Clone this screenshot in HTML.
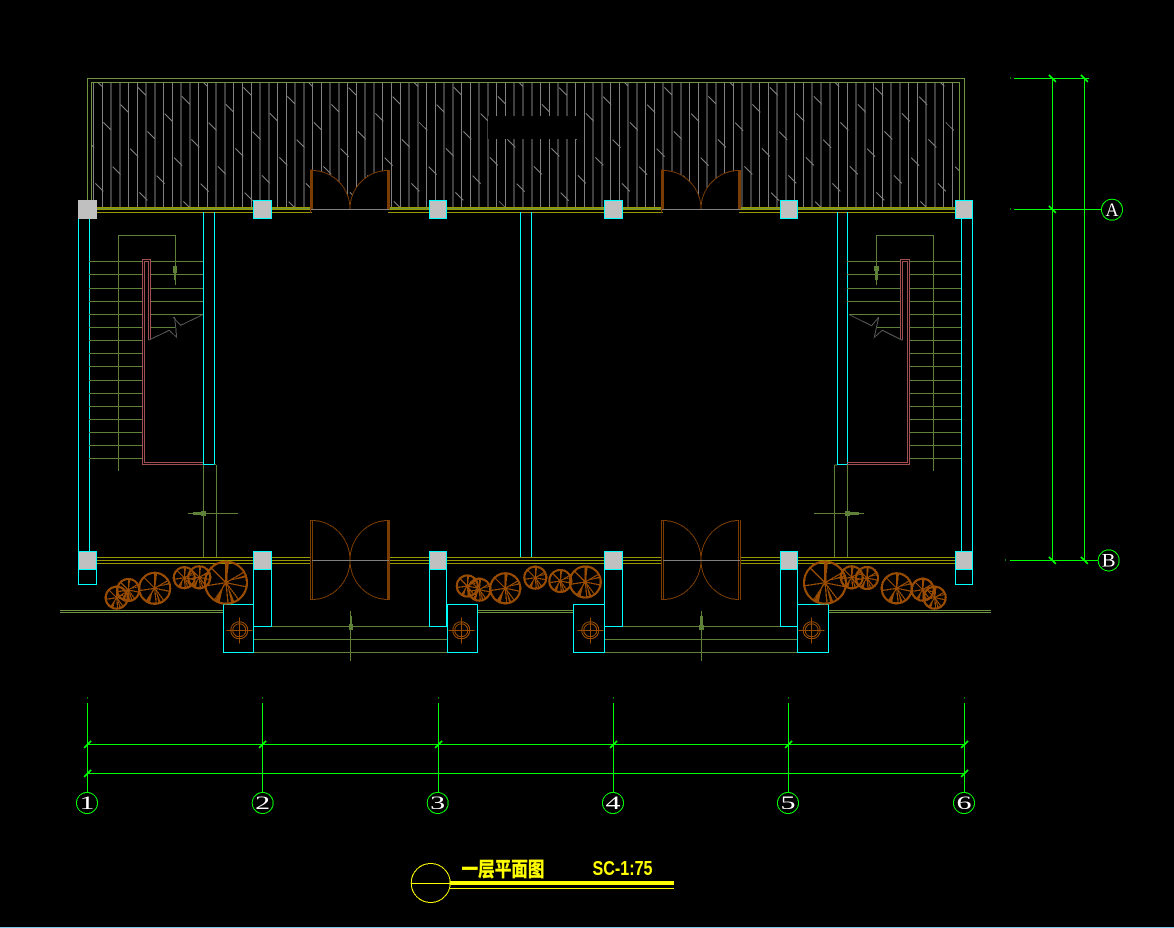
<!DOCTYPE html>
<html><head><meta charset="utf-8"><title>一层平面图</title>
<style>html,body{margin:0;padding:0;background:#000;width:1174px;height:928px;overflow:hidden}svg{display:block;shape-rendering:crispEdges}
.l{fill:none;stroke-width:1}
.c{stroke:#00ffff}.o{stroke:#999900}.g{stroke:#5f8038}.r{stroke:#a05050}.d{stroke:#7a3c00}.y{stroke:#808080}.n{stroke:#00ff00}
.t{fill:#fff;font-family:"Liberation Serif",serif;font-size:19px;text-anchor:middle}
</style></head><body>
<svg width="1174" height="928" viewBox="0 0 1174 928" xmlns="http://www.w3.org/2000/svg">
<defs>
<clipPath id="hc"><rect x="92" y="83" width="867" height="124"/></clipPath>
<g id="tr"><circle r="1" fill="none" stroke="#994c00" stroke-width="2.2" vector-effect="non-scaling-stroke"/><path d="M0 0L.12 -1M0 0L.85 -.5M0 0L.98 .2M0 0L.6 .8M0 0L.1 1M0 0L-.55 .83M0 0L-.98 .15M0 0L-.7 -.7" fill="none" stroke="#994c00" stroke-width="1.2" vector-effect="non-scaling-stroke"/><path d="M-.04 -.95L.08 -.95L.06 0L-.05 .05ZM-.08 0L-.5 .85L-.3 .9ZM.05 .05L.25 .95L.4 .9ZM0 -.06L.9 -.35L.92 -.25Z" fill="#994c00"/></g>
<g id="tl"><circle r="8.5" fill="none" stroke="#994c00"/><circle r="6.5" fill="none" stroke="#994c00"/><path d="M-13 0H13M0 -13V13" stroke="#994c00" fill="none"/></g>
</defs>
<rect width="1174" height="928" fill="#000"/>
<rect x="0" y="927" width="1174" height="1" fill="#7fc8ee"/>

<!-- hatch -->
<line x1="93" y1="145" x2="958" y2="145" stroke="#808080" stroke-width="124" stroke-dasharray="1 7.765"/>
<path clip-path="url(#hc)" class="l" stroke="#808080" d="
M94 78.5l8 8M199.3 78.5l8 8M304.6 78.5l8 8M409.9 78.5l8 8M515.2 78.5l8 8M620.5 78.5l8 8M725.8 78.5l8 8M831.1 78.5l8 8M936.4 78.5l8 8
M138 87.5l8 8M243.3 87.5l8 8M348.6 87.5l8 8M453.9 87.5l8 8M559.2 87.5l8 8M664.5 87.5l8 8M769.8 87.5l8 8M875.1 87.5l8 8
M182 96.5l8 8M287.3 96.5l8 8M392.6 96.5l8 8M497.9 96.5l8 8M603.2 96.5l8 8M708.5 96.5l8 8M813.8 96.5l8 8M919.1 96.5l8 8
M120.7 104.5l8 8M226 104.5l8 8M331.3 104.5l8 8M436.6 104.5l8 8M541.9 104.5l8 8M647.2 104.5l8 8M752.5 104.5l8 8M857.8 104.5l8 8
M164.7 113.5l8 8M270 113.5l8 8M375.3 113.5l8 8M480.6 113.5l8 8M585.9 113.5l8 8M691.2 113.5l8 8M796.5 113.5l8 8M901.8 113.5l8 8
M103.4 122.5l8 8M208.7 122.5l8 8M314 122.5l8 8M419.3 122.5l8 8M524.6 122.5l8 8M629.9 122.5l8 8M735.2 122.5l8 8M840.5 122.5l8 8M945.8 122.5l8 8
M147.4 131.5l8 8M252.7 131.5l8 8M358 131.5l8 8M463.3 131.5l8 8M568.6 131.5l8 8M673.9 131.5l8 8M779.2 131.5l8 8M884.5 131.5l8 8
M86.1 139.5l8 8M191.4 139.5l8 8M296.7 139.5l8 8M402 139.5l8 8M507.3 139.5l8 8M612.6 139.5l8 8M717.9 139.5l8 8M823.2 139.5l8 8M928.5 139.5l8 8
M130.1 148.5l8 8M235.4 148.5l8 8M340.7 148.5l8 8M446 148.5l8 8M551.3 148.5l8 8M656.6 148.5l8 8M761.9 148.5l8 8M867.2 148.5l8 8
M174.1 157.5l8 8M279.4 157.5l8 8M384.7 157.5l8 8M490 157.5l8 8M595.3 157.5l8 8M700.6 157.5l8 8M805.9 157.5l8 8M911.2 157.5l8 8
M112.7 166.5l8 8M218 166.5l8 8M323.3 166.5l8 8M428.6 166.5l8 8M533.9 166.5l8 8M639.2 166.5l8 8M744.5 166.5l8 8M849.8 166.5l8 8M955.1 166.5l8 8
M156.7 175.5l8 8M262 175.5l8 8M367.3 175.5l8 8M472.6 175.5l8 8M577.9 175.5l8 8M683.2 175.5l8 8M788.5 175.5l8 8M893.8 175.5l8 8
M95.4 183.5l8 8M200.7 183.5l8 8M306 183.5l8 8M411.3 183.5l8 8M516.6 183.5l8 8M621.9 183.5l8 8M727.2 183.5l8 8M832.5 183.5l8 8M937.8 183.5l8 8
M139.4 192.5l8 8M244.7 192.5l8 8M350 192.5l8 8M455.3 192.5l8 8M560.6 192.5l8 8M665.9 192.5l8 8M771.2 192.5l8 8M876.5 192.5l8 8
M183.4 201.5l8 8M288.7 201.5l8 8M394 201.5l8 8M499.3 201.5l8 8M604.6 201.5l8 8M709.9 201.5l8 8M815.2 201.5l8 8M920.5 201.5l8 8"/>
<rect x="488" y="116" width="95" height="23" fill="#000"/>
<rect x="87.5" y="78.5" width="877" height="130" class="l" stroke="#6f9440"/>
<path class="l" stroke="#6f9440" d="M91.5 207V82.5H959.5V207"/>

<!-- walls -->
<path class="l o" d="M97 207.5H955M97 209.5H955M97 212.5H955M97 557.5H955M97 560.5H955M97 563.5H955"/>
<path class="l c" d="M78.5 219V551M89.5 219V551M203.5 212V464.5H214.5V212M520.5 212V557M531.5 212V557M837.5 212V464.5H847.5V212M961.5 219V551M972.5 219V551"/>
<path class="l g" d="M203.5 465V557M216.5 465V557M834.5 465H837M834.5 465V557M847.5 465V557M216 464.5H214"/>

<!-- stairs left -->
<path class="l g" d="M89 261.5H142M89 274.5H142M89 288.5H142M89 301.5H142M89 314.5H142M89 327.5H142M89 340.5H142M89 353.5H142M89 366.5H142M89 380.5H142M89 393.5H142M89 406.5H142M89 419.5H142M89 432.5H142M89 445.5H142M89 458.5H142M151 261.5H203M151 274.5H203M151 288.5H203M151 301.5H203M151 314.5H203M151 327.5H175M118.5 471V235.5H175.5V285"/>
<rect x="173" y="266" width="4" height="7" fill="#5f8038"/><rect x="174" y="272" width="2" height="8" fill="#5f8038"/>
<path class="l r" d="M203 464.5H142.5V259.5H150.5V340M203 462.5H144.5V261.5H148.5V340"/>
<path fill="none" stroke="#555" d="M148.3 340.3L169.3 330.3L176.7 337.3L174.7 317.3H173.3L180.7 325.3L202.7 314.7"/>

<!-- stairs right -->
<path class="l g" d="M847 261.5H900M847 274.5H900M847 288.5H900M847 301.5H900M849 314.5H900M877 327.5H900M910 261.5H961M910 274.5H961M910 288.5H961M910 301.5H961M910 314.5H961M910 327.5H961M910 340.5H961M910 353.5H961M910 366.5H961M910 380.5H961M910 393.5H961M910 406.5H961M910 419.5H961M910 432.5H961M910 445.5H961M910 458.5H961M933.5 471V235.5H876.5V285"/>
<rect x="874" y="266" width="5" height="5" fill="#5f8038"/><rect x="875" y="270" width="3" height="10" fill="#5f8038"/>
<path class="l r" d="M847 464.5H909.5V259.5H900.5V340M847 462.5H907.5V261.5H902.5V340"/>
<path fill="none" stroke="#555" d="M902.3 340.3L882.3 330.3L874.3 337.3L878.7 317.3L871.7 325.7L849.3 314.7"/>

<!-- horizontal arrows -->
<path class="l g" d="M188 513.5H238M814 513.5H864"/>
<rect x="193" y="512" width="10" height="3" fill="#5f8038"/><rect x="201" y="511" width="5" height="5" fill="#5f8038"/>
<rect x="848" y="512" width="11" height="3" fill="#5f8038"/><rect x="845" y="511" width="5" height="5" fill="#5f8038"/>

<!-- top doors -->
<g>
<path d="M312 170A38 39 0 0 1 350 209A38 39 0 0 1 388 170V213H312Z" fill="#000"/>
<path d="M663 170A38 39 0 0 1 701 209A38 39 0 0 1 739 170V213H663Z" fill="#000"/>
<path d="M312 170.5A38 38.5 0 0 1 350 209M388 170.5A38 38.5 0 0 0 350 209M663 170.5A38 38.5 0 0 1 701 209M739 170.5A38 38.5 0 0 0 701 209" fill="none" stroke="#7a3c00"/>
<path class="l d" d="M310.5 170H313M310.5 170V213M311.5 170V209M312.5 170V209M387.5 170V209M388.5 170V209M389.5 170V209M661.5 170H664M661.5 170V213M662.5 170V209M663.5 170V209M738.5 170V209M739.5 170V209M740.5 170V209"/>
<path class="l y" d="M311 209.5H389M662 209.5H740"/>
</g>

<!-- bottom doors -->
<rect x="311" y="556" width="78" height="9" fill="#000"/><rect x="662" y="556" width="78" height="9" fill="#000"/>
<path d="M312 520.5A38 39.5 0 0 1 350 560A38 39.5 0 0 1 312 599.5M388 520.5A38 39.5 0 0 0 350 560A38 39.5 0 0 0 388 599.5M663 520.5A38 39.5 0 0 1 701 560A38 39.5 0 0 1 663 599.5M739 520.5A38 39.5 0 0 0 701 560A38 39.5 0 0 0 739 599.5" fill="none" stroke="#7a3c00"/>
<path class="l d" d="M310.5 520V600M312.5 520V600M387.5 520V600M388.5 520V600M389.5 520V600M310 520.5H313M310 599.5H313M661.5 520V600M663.5 520V600M738.5 520V600M740.5 520V600M661 520.5H664M661 599.5H664"/>
<path class="l y" d="M312 560.5H389M663 560.5H740"/>

<!-- columns -->
<rect x="78" y="200" width="19" height="19" fill="#c0c0c0"/>
<g fill="#c0c0c0" stroke="#00ffff">
<rect x="253.5" y="200.5" width="18" height="18"/><rect x="429.5" y="200.5" width="17" height="18"/><rect x="604.5" y="200.5" width="18" height="18"/><rect x="780.5" y="200.5" width="17" height="18"/><rect x="955.5" y="200.5" width="17" height="18"/>
<rect x="78.5" y="551.5" width="18" height="18"/><rect x="253.5" y="551.5" width="18" height="18"/><rect x="429.5" y="551.5" width="17" height="18"/><rect x="604.5" y="551.5" width="18" height="18"/><rect x="780.5" y="551.5" width="17" height="18"/><rect x="955.5" y="551.5" width="17" height="18"/>
</g>
<path class="l c" d="M78.5 569V584.5H96.5V569M955.5 569V584.5H972.5V569M253.5 569V626.5H271.5V569M429.5 569V626.5H446.5V569M604.5 569V626.5H622.5V569M780.5 569V626.5H797.5V569"/>
<path class="l c" d="M223.5 604.5H253.5V652.5H223.5ZM447.5 604.5H477.5V652.5H447.5ZM573.5 604.5H604.5V652.5H573.5ZM797.5 604.5H828.5V652.5H797.5Z"/>

<!-- front steps, ground -->
<path class="l g" d="M272 626.5H429M254 639.5H447M254 652.5H447M623 626.5H780M605 639.5H797M605 652.5H797M350.5 611V661M701.5 611V661"/>
<rect x="350" y="616" width="2" height="10" fill="#5f8038"/><rect x="349" y="624" width="4" height="6" fill="#5f8038"/>
<rect x="700" y="616" width="3" height="10" fill="#5f8038"/><rect x="699" y="625" width="5" height="5" fill="#5f8038"/>
<path class="l" stroke="#6f9440" d="M60 610.5H223M60 612.5H223M478 610.5H573M478 612.5H573M829 610.5H991M829 612.5H991"/>

<!-- lamp posts -->
<use href="#tl" x="239.3" y="630.3"/><use href="#tl" x="461.3" y="630.3"/><use href="#tl" x="590.3" y="630.3"/><use href="#tl" x="811.7" y="630.3"/>

<!-- trees -->
<g transform="translate(116.7 597.7) scale(11)"><use href="#tr"/></g>
<g transform="translate(128.3 590) scale(11)"><use href="#tr"/></g>
<g transform="translate(154.7 588.3) scale(15.5)"><use href="#tr"/></g>
<g transform="translate(184.3 577.7) scale(10.5)"><use href="#tr"/></g>
<g transform="translate(199.3 577.3) scale(11)"><use href="#tr"/></g>
<g transform="translate(226 582.7) scale(21)"><use href="#tr"/></g>
<g transform="translate(467.3 586) scale(10.5)"><use href="#tr"/></g>
<g transform="translate(479.3 589.7) scale(11)"><use href="#tr"/></g>
<g transform="translate(505.3 588.3) scale(15)"><use href="#tr"/></g>
<g transform="translate(535.3 577.7) scale(11)"><use href="#tr"/></g>
<g transform="translate(560.3 581) scale(11)"><use href="#tr"/></g>
<g transform="translate(585.3 582) scale(15.5)"><use href="#tr"/></g>
<g transform="translate(825 582.7) scale(21)"><use href="#tr"/></g>
<g transform="translate(851.7 577.3) scale(11)"><use href="#tr"/></g>
<g transform="translate(867 578) scale(11)"><use href="#tr"/></g>
<g transform="translate(896.7 588.3) scale(15)"><use href="#tr"/></g>
<g transform="translate(922.7 589.7) scale(11)"><use href="#tr"/></g>
<g transform="translate(934.7 597.7) scale(11)"><use href="#tr"/></g>

<!-- right dims -->
<path class="l n" d="M1014 78.5H1089M1052.5 78V561M1084.5 78V561M1014 209.5H1101M1010 560.5H1098M1010 78h1M1010 209h1M1005 560h1"/>
<path fill="none" stroke="#00ff00" stroke-width="2" d="M1049 75L1056 82M1081 75L1088 82M1049 206L1056 213M1049 557L1056 564M1081 557L1088 564"/>
<circle cx="1112" cy="209.7" r="10.5" fill="#000" stroke="#00ff00"/>
<circle cx="1108.7" cy="560.4" r="10.5" fill="#000" stroke="#00ff00"/>
<text class="t" x="1112" y="216" textLength="13" lengthAdjust="spacingAndGlyphs">A</text>
<text class="t" x="1108.7" y="566.5" textLength="14" lengthAdjust="spacingAndGlyphs">B</text>

<!-- bottom dims -->
<path class="l n" d="M87.5 703V792M262.5 703V792M438.5 703V792M613.5 703V792M788.5 703V792M964.5 703V792M87 744.5H965M87 773.5H965M87 698h1M262 698h1M438 698h1M613 698h1M788 698h1M964 698h1"/>
<path fill="none" stroke="#00ff00" stroke-width="2" d="M84 748L91 741M84 777L91 770M259 748L266 741M435 748L442 741M610 748L617 741M785 748L792 741M961 748L968 741M961 777L968 770"/>
<g fill="#000" stroke="#00ff00"><circle cx="87" cy="803" r="10.5"/><circle cx="262.7" cy="803" r="10.5"/><circle cx="437.7" cy="803" r="10.5"/><circle cx="613" cy="803" r="10.5"/><circle cx="788" cy="803" r="10.5"/><circle cx="964" cy="803" r="10.5"/></g>
<g>
<text class="t" x="87" y="809" textLength="15" lengthAdjust="spacingAndGlyphs">1</text>
<text class="t" x="262.7" y="809" textLength="15" lengthAdjust="spacingAndGlyphs">2</text>
<text class="t" x="437.7" y="809" textLength="15" lengthAdjust="spacingAndGlyphs">3</text>
<text class="t" x="613" y="809" textLength="15" lengthAdjust="spacingAndGlyphs">4</text>
<text class="t" x="788" y="809" textLength="15" lengthAdjust="spacingAndGlyphs">5</text>
<text class="t" x="964" y="809" textLength="15" lengthAdjust="spacingAndGlyphs">6</text>
</g>

<!-- title -->
<circle cx="430.7" cy="883" r="19.5" fill="none" stroke="#ffff00"/>
<path class="l" stroke="#ffff00" d="M411 883.5H450M450 888.5H674"/>
<rect x="450" y="881" width="224" height="4" fill="#ffff00"/>
<text x="461.5" y="876" fill="#ffff00" stroke="#ffff00" stroke-width=".4" font-family="'Liberation Sans','Noto Sans CJK SC',sans-serif" font-weight="700" font-size="20" textLength="83" lengthAdjust="spacingAndGlyphs">一层平面图</text>
<text x="592.5" y="875" fill="#ffff00" font-family="'Liberation Sans',sans-serif" font-weight="700" font-size="20" textLength="60" lengthAdjust="spacingAndGlyphs">SC-1:75</text>
</svg>
</body></html>
